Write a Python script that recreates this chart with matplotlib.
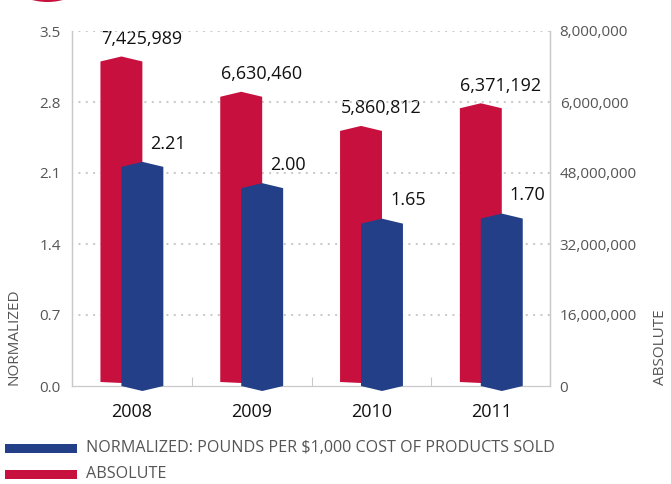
import numpy as np
import matplotlib.pyplot as plt
from matplotlib.patches import Polygon, Ellipse, Rectangle

years = ['2008', '2009', '2010', '2011']
absolute = [7425989, 6630460, 5860812, 6371192]
normalized = [2.21, 2.00, 1.65, 1.70]

left_ticks = [0.0, 0.7, 1.4, 2.1, 2.8, 3.5]
right_ticks = [0, 1600000, 3200000, 4800000, 6400000, 8000000]
right_tick_labels = ['0', '16,000,000', '32,000,000', '48,000,000', '6,000,000', '8,000,000']

RED = '#c8103e'
BLUE = '#233f87'
GRAY = '#c9c9c9'
TXT = '#555555'

plt.rcParams['font.family'] = ['Open Sans', 'DejaVu Sans']

W, H = 671, 484
fig = plt.figure(figsize=(W / 100, H / 100), dpi=100)
ax = fig.add_axes([72 / W, 1 - 386 / H, (550 - 72) / W, (386 - 31) / H])
ax2 = ax.twinx()

ax.set_xlim(-0.5, 3.49)
ax.set_ylim(0, 3.5)
ax2.set_ylim(0, 8000000)

# px -> data units on each axis
py_l = 3.5 / 355
py_r = 8000000 / 355

bw = 0.35      # bar width
off = 0.0875   # shift of each bar from group centre
x = np.arange(len(years))


def bar_shape(c, top, peak, base, tip):
    h = bw / 2
    return [(c - h, base), (c - h, top - peak), (c, top), (c + h, top - peak),
            (c + h, base), (c, base - tip)]


for i in range(len(years)):
    pts = bar_shape(x[i] - off, absolute[i], 5 * py_r, 4 * py_r, 1 * py_r)
    ax.add_patch(Polygon(pts, closed=True, facecolor=RED, edgecolor='none',
                         transform=ax2.transData, clip_on=False, zorder=2))
for i in range(len(years)):
    pts = bar_shape(x[i] + off, normalized[i], 5 * py_l, 0, 5 * py_l)
    ax.add_patch(Polygon(pts, closed=True, facecolor=BLUE, edgecolor='none',
                         clip_on=False, zorder=3))

# value labels
for i in range(len(years)):
    ax2.annotate(f'{absolute[i]:,}', (x[i] + 0.08, absolute[i]), xytext=(0, 9),
                 textcoords='offset points', ha='center', va='baseline',
                 fontsize=13, color='#111111')
    ax.annotate(f'{normalized[i]:.2f}', (x[i] + 0.155, normalized[i]), xytext=(0, 9.5),
                textcoords='offset points', ha='left', va='baseline',
                fontsize=13, color='#111111', zorder=5)

# grid
for t in left_ticks[1:]:
    ax.axhline(t, color=GRAY, lw=1.6, ls=(0, (0.1, 3.2)), dash_capstyle='round',
               zorder=1)

ax.set_yticks(left_ticks)
ax.set_yticklabels([f'{t:.1f}' for t in left_ticks])
ax2.set_yticks(right_ticks)
ax2.set_yticklabels(right_tick_labels)
ax.set_xticks(x)
ax.set_xticklabels(years)
ax.set_xticks([0.5, 1.5, 2.5], minor=True)

ax.tick_params(axis='y', length=0, pad=8, labelsize=11, labelcolor=TXT)
ax2.tick_params(axis='y', length=0, pad=7, labelsize=11, labelcolor=TXT)
ax.tick_params(axis='x', which='major', length=0, pad=12, labelsize=13,
               labelcolor='#111111')
ax.tick_params(axis='x', which='minor', direction='in', length=6.5, width=0.8,
               color=GRAY)

for a in (ax, ax2):
    a.spines['top'].set_visible(False)
    for s in ('left', 'right', 'bottom'):
        a.spines[s].set_color(GRAY)
        a.spines[s].set_linewidth(0.9)
ax2.spines['bottom'].set_visible(False)
ax.set_zorder(ax2.get_zorder() + 1)
ax.patch.set_visible(False)

# axis titles
fig.text(14 / W, 1 - 385 / H, 'NORMALIZED', rotation=90, ha='center', va='bottom',
         fontsize=11, color=TXT)
fig.text(661 / W, 1 - 385 / H, 'ABSOLUTE', rotation=90, ha='center', va='bottom',
         fontsize=11, color=TXT)

# legend
legend_rows = [(BLUE, 'NORMALIZED: POUNDS PER $1,000 COST OF PRODUCTS SOLD', 448),
               (RED, 'ABSOLUTE', 474)]
for col, label, yc in legend_rows:
    fig.patches.append(Rectangle((5 / W, 1 - (yc + 4.5) / H), 72 / W, 9 / H,
                                 transform=fig.transFigure, facecolor=col,
                                 edgecolor='none'))
    fig.text(86 / W, 1 - yc / H, label, ha='left', va='center', fontsize=11.6,
             color=TXT)

# decorative badge at the top-left edge
fig.patches.append(Ellipse((47.5 / W, 1 + 58 / H), 120 / W, 120 / H,
                           transform=fig.transFigure, facecolor=RED,
                           edgecolor='none'))

fig.savefig('out.png', dpi=100)
